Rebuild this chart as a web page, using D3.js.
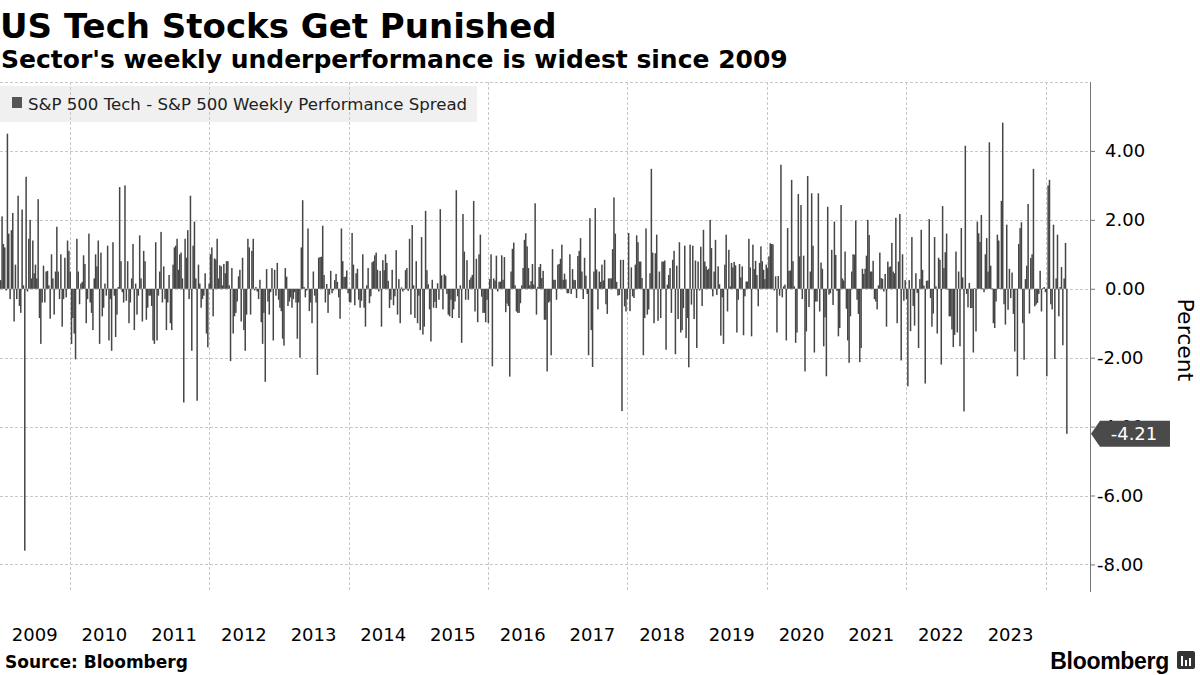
<!DOCTYPE html>
<html>
<head>
<meta charset="utf-8">
<script src="https://cdn.jsdelivr.net/npm/d3@7"></script>
<style>
  body { margin: 0; background: #fff; }
  svg { display: block; font-family: "DejaVu Sans", sans-serif; }
</style>
</head>
<body>
<svg id="chart" width="1200" height="675"></svg>
<script>
// Weekly spread, S&P 500 Tech minus S&P 500 (percent), one array per calendar year (Friday closes)
const y2009 = [0.25, 2.1, 1.3, 1.2, -0.05, 4.5, 1.6, -0.3, 1.7, 2.2, -0.95, 0.7, -0.3, 2.7, -0.5, -0.7, 2.3, 0.1, -7.6, 3.25, -0.08, 1.45, 2.0, 0.3, 1.4, 0.45, 0.7, 0.3, 2.6, -0.85, -1.6, -0.4, 0.67, -0.4, 0.5, 0.52, 0.1, -0.87, 1.0, 0.3, -0.75, 0.5, 1.8, 0.5, -0.3, 1.0, -1.1, -0.3, 0.9, -0.25, 1.4, 1.1];
const y2010 = [0.5, -1.6, -0.85, -1.3, -2.05, 1.45, 0.5, -0.45, 0.15, 0.2, 0.97, 0.72, -1.0, -0.3, 1.6, -0.4, -0.7, -1.2, 0.3, 1.0, 0.65, 1.4, -1.6, 1.05, -0.8, -0.55, 0.15, -0.2, 1.25, -1.5, -0.3, -1.8, 1.35, -0.2, -1.4, -0.75, 0.05, 2.95, 0.8, -0.1, -0.4, 3.0, -0.35, 0.8, -1.0, -0.4, 0.3, 1.3, -1.2, 0.15, -0.75, -0.2, 1.55];
const y2011 = [0.3, -0.95, 1.1, 0.8, -0.9, -0.55, -0.2, -0.2, -0.5, -1.5, -1.6, 1.35, -1.5, -0.2, 0.5, 1.65, -0.4, 0.65, -0.3, -1.2, -0.4, 0.4, -1.0, -1.2, 0.7, 1.2, 1.25, 1.45, 0.55, 1.0, 1.05, 0.3, -3.3, 1.45, 0.9, 1.7, -0.3, 2.7, -1.8, 1.25, 1.95, 0.3, -3.25, 0.7, 0.15, -0.55, -0.3, -0.2, 0.45, -1.3, -1.7, 0.15];
const y2012 = [1.0, 1.2, -0.8, 0.88, 0.85, 1.45, 0.3, 0.68, 0.65, 0.1, 0.72, 0.45, 0.8, 0.8, 0.1, -2.1, 0.6, -1.3, -0.8, -0.7, -0.37, 0.36, 0.55, -0.95, 0.9, -1.2, -1.8, -0.75, 1.45, 1.2, -0.75, 1.1, 1.45, -0.05, 0.05, -0.08, -0.3, 0.26, -0.97, -1.6, -0.7, -2.7, 0.57, -0.37, -0.75, -0.1, 0.6, -1.5, 0.55, -0.2, 0.75, -0.32];
const y2013 = [-0.55, -0.65, -1.45, -1.65, 0.6, 0.35, -0.5, -0.37, -0.25, -0.55, -0.3, -0.1, -0.4, -1.45, -0.4, -2.0, 1.2, 2.57, 0.05, -0.25, -0.05, 1.75, -0.65, -0.4, -1.0, 0.5, -0.2, -0.4, -2.5, 0.9, 0.92, 0.93, 1.83, 0.4, -0.4, 0.14, -0.7, -0.17, 0.52, -0.13, -0.05, 0.25, 0.43, 0.2, -0.25, -0.87, 1.75, 0.8, 0.34, 0.35, 0.53, -0.13];
const y2014 = [-0.38, -0.4, 1.62, 0.7, -0.48, 0.45, 0.58, -0.32, -0.55, -0.35, 1.0, -0.55, -1.1, 0.1, 0.6, -0.42, -0.22, 0.77, 0.8, 0.97, 1.05, 0.55, -0.08, 0.52, -1.1, 0.83, 0.54, 1.0, 0.75, 0.23, -0.56, -0.32, 0.55, -0.48, -0.22, 1.12, -0.75, 0.28, -1.0, 0.04, -0.08, -0.03, 0.54, 0.6, -0.06, 1.45, -0.75, 1.85, 0.1, -0.85, 0.8, -1.0];
const y2015 = [-0.2, -1.2, 1.5, -1.33, -1.1, 2.26, 0.54, 0.13, -0.6, -1.53, 0.26, -0.55, -0.38, -0.56, 0.16, -0.32, 2.31, 0.39, -0.6, 0.42, 0.38, -0.15, -0.75, -0.8, -0.32, -0.85, -0.6, -0.37, 2.86, -0.22, -0.85, 0.1, -1.57, 2.17, 1.08, -0.32, 0.83, -0.32, 0.26, 0.33, 0.4, 2.55, -0.66, 0.87, -0.97, 1.0, 1.57, -0.23, -0.7, -0.7, -0.97, -0.32];
const y2016 = [-1.0, 0.28, 1.0, -2.25, 0.3, 0.24, 0.96, -0.08, 0.2, 0.21, 0.97, 0.26, 0.92, -0.68, -0.43, -0.5, -2.55, 0.5, 1.16, 1.34, 0.1, -0.66, -0.7, -0.7, -0.42, 0.1, 0.6, 1.42, 1.61, 1.23, 0.6, 0.1, 0.22, 0.72, 0.12, 2.48, -0.75, 0.05, 0.63, 0.72, 0.31, 0.52, -0.9, -0.9, -2.4, -0.4, -0.37, -1.93, 1.15, 0.26, 0.26, -0.32, 0.7];
const y2017 = [0.72, 0.87, 1.28, 0.26, 0.44, 0.27, -0.13, -0.13, 1.0, -0.15, 0.57, 0.26, 0.25, -0.27, 0.95, 1.1, 1.47, 0.5, -0.3, 0.9, 0.38, -0.15, -1.93, 2.05, -1.2, -2.27, 0.5, 2.34, 0.56, -0.6, 0.5, 0.2, 0.7, 0.24, 0.84, -0.45, -0.73, 0.3, 0.3, 0.3, 1.15, 2.65, 1.6, 0.2, -0.2, -0.18, 0.84, -3.55, 0.84, -0.51, -0.66, -0.3];
const y2018 = [1.62, -0.65, 0.62, -0.22, -0.27, 0.7, 1.55, 1.35, 0.79, 0.79, 0.31, -1.93, -0.85, 1.75, -0.75, -0.6, 0.45, 3.48, 1.05, -1.0, 1.03, 1.57, -0.93, 0.5, -0.85, 0.79, 0.79, 0.82, -1.77, 0.12, 0.4, 0.6, -0.7, 0.84, 1.1, -1.9, 0.67, -0.88, 1.35, -1.27, -1.2, -0.56, 1.25, -1.43, -0.85, -2.28, 1.28, -0.46, 1.25, -0.88, 0.82, -1.72];
const y2019 = [0.79, -0.05, 1.22, -0.5, 1.71, 0.79, 0.65, 0.55, 0.58, 2.0, 1.18, -0.22, 0.5, 1.42, -0.18, 0.65, 0.13, -1.36, -0.25, -1.6, 0.7, 1.57, -0.66, 1.13, 0.07, 0.75, 0.62, 0.78, 0.68, -1.27, -0.32, 0.72, 0.33, 0.65, -1.35, -0.22, 0.21, 0.21, 1.45, 0.62, -1.38, 1.28, 0.57, 0.81, 0.4, -0.51, 0.75, 1.23, 0.8, 0.55, 0.28, 0.7];
const y2020 = [0.6, 0.94, 1.32, 1.3, 1.29, -0.05, 0.36, -1.27, 0.37, -0.2, 3.6, -0.25, 0.07, 0.12, -1.5, 1.76, 0.52, 0.53, 3.16, 0.8, 0.07, -1.57, -1.27, 2.75, 0.94, 2.43, -0.3, 0.96, -2.4, -1.24, 3.27, -0.53, 0.5, 2.77, 1.25, -1.85, -0.37, -0.37, 2.77, -0.66, 0.76, 0.58, -1.67, -0.83, -2.54, 2.38, -0.17, -0.13, 1.13, -0.47, 1.95, 0.98];
const y2021 = [-0.06, -1.38, -1.14, 2.43, 0.3, 0.24, 1.08, -0.58, -1.5, -2.15, -0.8, 0.5, 1.0, 0.99, 1.98, -0.32, -0.73, -2.13, -1.72, 0.58, 0.43, 0.58, 0.96, 2.0, 1.56, 0.5, 0.5, 0.81, -0.3, -0.37, -0.6, 0.1, 1.05, 0.31, 0.29, -0.08, 0.43, -1.1, 0.79, 0.63, 0.65, 1.33, 0.5, 0.45, 2.06, -1.0, 0.79, 2.17, -2.08, 1.0, -0.35, 0.25, -0.3];
const y2022 = [-2.83, 0.25, -1.23, 1.5, -0.5, -1.07, 0.45, -0.12, -1.72, 0.28, 1.71, 0.55, 0.09, -2.75, 0.23, 0.24, 2.02, -0.27, -1.1, -0.72, 1.5, 0.07, -1.3, 0.9, 0.84, -2.2, 2.4, 0.6, 1.06, 1.6, -0.03, -0.8, -0.8, -1.18, -1.69, -1.34, 1.08, -1.27, 0.5, -1.67, 1.76, 0.33, -3.56, 4.15, -0.15, -0.54, 0.17, -0.56, -0.56, -1.85, 0.02, -1.24];
const y2023 = [1.95, 1.61, 1.36, 2.14, 0.02, -0.1, 1.0, 1.47, 0.5, 4.25, 0.67, 0.02, -1.0, -1.14, -0.37, 1.57, 1.4, 0.02, 2.55, 4.82, -0.45, -1.04, 1.86, -0.61, 0.58, -0.27, 0.47, -0.73, -1.82, -0.02, -2.54, 1.3, 1.76, 1.93, -1.0, -2.06, 0.28, 0.67, 2.46, -0.72, 0.89, 1.0, 3.48, -0.51, -0.46, -0.41, -0.15, 0.52, -0.66, 0.02, 0.05, -0.1];
const y2024 = [-2.54, 3.0, 3.16, -0.45, -0.6, 1.86, -2.04, 0.3, 1.57, -0.8, 0.05, 0.63, -1.64, 0.3, 1.33, -4.21];

const years = [2009, 2010, 2011, 2012, 2013, 2014, 2015, 2016, 2017, 2018, 2019, 2020, 2021, 2022, 2023, 2024];
const yearValues = [y2009, y2010, y2011, y2012, y2013, y2014, y2015, y2016, y2017, y2018, y2019, y2020, y2021, y2022, y2023, y2024];
const yearLabels = ["2009", "2010", "2011", "2012", "2013", "2014", "2015", "2016", "2017", "2018", "2019", "2020", "2021", "2022", "2023"];
const yTicks = [-8, -6, -4, -2, 0, 2, 4];
const lastValue = -4.21;

// build weekly rows: each value sits on that year's Fridays in order
const data = years.flatMap((yr, k) => {
  const fridays = d3.timeFriday.range(new Date(yr, 0, 1), new Date(yr + 1, 0, 1));
  return yearValues[k].map((v, i) => ({ date: fridays[i], value: v }));
});

const svg = d3.select("#chart");

const plotTop = 82;
const plotBottom = 592;
const axisX = 1090;

const x = d3.scaleTime()
    .domain([new Date(2009, 0, 1), new Date(2024, 0, 1)])
    .range([0, 1045.5]);

const y = d3.scaleLinear()
    .domain([-8.8, 6])
    .range([plotBottom, plotTop]);

// titles
svg.append("text")
    .attr("x", 0).attr("y", 38)
    .attr("font-size", 34).attr("font-weight", "bold").attr("fill", "#000")
    .text("US Tech Stocks Get Punished");

svg.append("text")
    .attr("x", 1).attr("y", 68)
    .attr("font-size", 25).attr("font-weight", "bold").attr("fill", "#000")
    .text("Sector's weekly underperformance is widest since 2009");

// legend box goes under the grid
svg.append("rect")
    .attr("x", 0).attr("y", 86)
    .attr("width", 477).attr("height", 36)
    .attr("fill", "#f0f0f0");

// grid
const grid = svg.append("g")
    .attr("stroke", "#c8c8c8")
    .attr("stroke-width", 1)
    .attr("stroke-dasharray", "3,2");

grid.selectAll(".hgrid")
    .data(yTicks.concat([6]))
    .join("line")
        .attr("class", "hgrid")
        .attr("x1", 0)
        .attr("x2", axisX)
        .attr("y1", d => Math.round(y(d)) + 0.5)
        .attr("y2", d => Math.round(y(d)) + 0.5);

const gridYears = [2010, 2012, 2014, 2016, 2018, 2020, 2022, 2024];
grid.selectAll(".vgrid")
    .data(gridYears)
    .join("line")
        .attr("class", "vgrid")
        .attr("x1", d => Math.round(x(new Date(d, 0, 1))) + 0.5)
        .attr("x2", d => Math.round(x(new Date(d, 0, 1))) + 0.5)
        .attr("y1", plotTop)
        .attr("y2", plotBottom);

// bars
svg.append("g")
    .selectAll("rect")
    .data(data)
    .join("rect")
        .attr("x", d => x(d.date) - 0.2)
        .attr("width", 1.5)
        .attr("y", d => y(Math.max(0, d.value)))
        .attr("height", d => Math.abs(y(d.value) - y(0)))
        .attr("fill", "#464646");

// legend marker + text
svg.append("rect")
    .attr("x", 12).attr("y", 97)
    .attr("width", 10).attr("height", 11)
    .attr("fill", "#555");

svg.append("text")
    .attr("x", 28).attr("y", 110)
    .attr("font-size", 16.6).attr("fill", "#222")
    .text("S&P 500 Tech - S&P 500 Weekly Performance Spread");

// right axis
const yAxis = svg.append("g")
    .attr("transform", `translate(${axisX},0)`)
    .call(d3.axisRight(y).tickValues(yTicks).tickSize(5).tickFormat(d => d.toFixed(2)));

yAxis.select(".domain").attr("stroke", "#777").attr("d", `M0.5,${plotTop}V${plotBottom}`);
yAxis.selectAll(".tick line").attr("stroke", "#777");
yAxis.selectAll(".tick text")
    .attr("font-family", "DejaVu Sans, sans-serif")
    .attr("font-size", 18)
    .attr("fill", "#000")
    .attr("text-anchor", "start")
    .attr("x", d => d < 0 ? 7 : 15);

svg.append("text")
    .attr("transform", "translate(1178,340) rotate(90)")
    .attr("text-anchor", "middle")
    .attr("font-size", 22).attr("fill", "#000")
    .text("Percent");

// last value callout (sits over the -4.00 tick label, as in the source)
const ly = y(lastValue);
svg.append("path")
    .attr("d", `M${axisX + 1},${ly} L${axisX + 10},${ly - 13} H1170 V${ly + 13} H${axisX + 10} Z`)
    .attr("fill", "#4a4a4a");

svg.append("text")
    .attr("x", 1134).attr("y", ly + 6.5)
    .attr("text-anchor", "middle")
    .attr("font-size", 18).attr("fill", "#fff")
    .text(lastValue.toFixed(2));

// year labels
svg.append("g")
    .selectAll("text")
    .data(yearLabels)
    .join("text")
        .attr("x", d => x(new Date(+d, 6, 2)))
        .attr("y", 641)
        .attr("text-anchor", "middle")
        .attr("font-size", 18)
        .attr("fill", "#000")
        .text(d => d);

// footer
svg.append("text")
    .attr("x", 5).attr("y", 668)
    .attr("font-size", 17).attr("font-weight", "bold").attr("fill", "#000")
    .text("Source: Bloomberg");

svg.append("text")
    .attr("x", 1169).attr("y", 669)
    .attr("text-anchor", "end")
    .attr("font-family", "Liberation Sans, sans-serif")
    .attr("font-size", 23).attr("font-weight", "bold").attr("fill", "#000")
    .attr("letter-spacing", -0.3)
    .text("Bloomberg");

const logo = svg.append("g").attr("transform", "translate(1177,651)");
logo.append("rect").attr("width", 18).attr("height", 18).attr("rx", 2).attr("fill", "#333");
logo.selectAll(".b")
    .data([[4, 10], [8, 6], [12, 8]])
    .join("rect")
        .attr("class", "b")
        .attr("x", d => d[0]).attr("y", d => 15 - d[1])
        .attr("width", 2).attr("height", d => d[1])
        .attr("fill", "#fff");
</script>
</body>
</html>
